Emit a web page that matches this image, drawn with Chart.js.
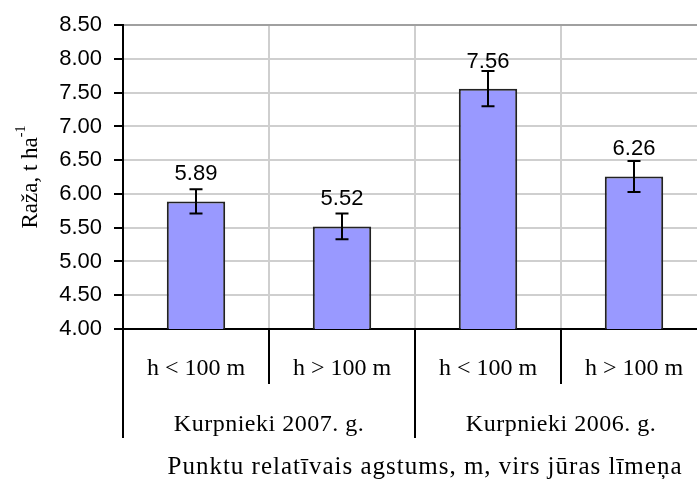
<!DOCTYPE html>
<html>
<head>
<meta charset="utf-8">
<script src="https://cdn.jsdelivr.net/npm/chart.js@4"></script>
<style>
  html, body { margin: 0; padding: 0; overflow: hidden; background: #fff; }
  #wrap { width: 710px; height: 479px; position: relative; }
</style>
</head>
<body>
<div id="wrap"><canvas id="myChart"></canvas></div>
<script>
// Raža pa punktiem (t/ha), ar kļūdu joslām
const categories = ['h < 100 m', 'h > 100 m', 'h < 100 m', 'h > 100 m'];
const groups = ['Kurpnieki 2007. g.', 'Kurpnieki 2006. g.'];
const yieldValues = [5.89, 5.52, 7.56, 6.26];
const errorValues = [0.18, 0.19, 0.26, 0.23];
const yMin = 4.0;
const yMax = 8.5;
const yStep = 0.5;

const serif = "'Liberation Serif', 'Times New Roman', serif";
const sans = "'Liberation Sans', Arial, sans-serif";

// kļūdu joslas un vērtību uzraksti virs stabiņiem
const barExtras = {
    id: 'barExtras',
    afterDatasetsDraw(chart) {
        const ctx = chart.ctx;
        const y = chart.scales.y;
        const meta = chart.getDatasetMeta(0);
        ctx.save();
        meta.data.forEach((bar, i) => {
            const v = yieldValues[i];
            const e = errorValues[i];
            const yTop = y.getPixelForValue(v + e);
            const yBot = y.getPixelForValue(v - e);
            ctx.strokeStyle = '#000';
            ctx.lineWidth = 2;
            ctx.beginPath();
            ctx.moveTo(bar.x, yTop);
            ctx.lineTo(bar.x, yBot);
            ctx.moveTo(bar.x - 6.5, yTop);
            ctx.lineTo(bar.x + 6.5, yTop);
            ctx.moveTo(bar.x - 6.5, yBot);
            ctx.lineTo(bar.x + 6.5, yBot);
            ctx.stroke();

            ctx.fillStyle = '#000';
            ctx.font = '22px ' + sans;
            ctx.textAlign = 'center';
            ctx.textBaseline = 'middle';
            ctx.fillText(v.toFixed(2), bar.x, bar.y - 27);
        });
        ctx.restore();
    }
};

// grupu atdalītāji zem ass, grupu nosaukumi un asu virsraksti
const axisExtras = {
    id: 'axisExtras',
    afterDraw(chart) {
        const ctx = chart.ctx;
        const x = chart.scales.x;
        const area = chart.chartArea;
        const half = (x.getPixelForValue(1) - x.getPixelForValue(0)) / 2;
        ctx.save();
        ctx.strokeStyle = '#000';
        ctx.lineWidth = 2;
        for (let i = 0; i <= categories.length; i++) {
            const px = x.getPixelForValue(0) - half + i * half * 2;
            const end = (i % 2 === 0) ? 438 : 384;
            ctx.beginPath();
            ctx.moveTo(px, area.bottom);
            ctx.lineTo(px, end);
            ctx.stroke();
        }

        ctx.fillStyle = '#000';
        ctx.textAlign = 'center';
        ctx.textBaseline = 'middle';
        ctx.font = '24px ' + serif;
        ctx.letterSpacing = '0.5px';
        groups.forEach((g, gi) => {
            const cx = (x.getPixelForValue(gi * 2) + x.getPixelForValue(gi * 2 + 1)) / 2;
            ctx.fillText(g, cx, 425);
        });
        ctx.font = '25px ' + serif;
        ctx.letterSpacing = '1px';
        ctx.fillText('Punktu relatīvais agstums, m, virs jūras līmeņa', (area.left + area.right) / 2 + 10, 467);
        ctx.letterSpacing = '0px';

        // Y ass virsraksts ar augšrakstu
        ctx.translate(31, (area.top + area.bottom) / 2);
        ctx.rotate(-Math.PI / 2);
        ctx.font = '23px ' + serif;
        const main = 'Raža, t ha';
        const wMain = ctx.measureText(main).width;
        ctx.font = '14px ' + serif;
        const sup = '-1';
        const wSup = ctx.measureText(sup).width;
        const start = -(wMain + wSup) / 2;
        ctx.textAlign = 'left';
        ctx.font = '23px ' + serif;
        ctx.fillText(main, start, 0);
        ctx.font = '14px ' + serif;
        ctx.fillText(sup, start + wMain, -10);
        ctx.restore();
    }
};

const ctx = document.getElementById('myChart').getContext('2d');
const myChart = new Chart(ctx, {
    type: 'bar',
    data: {
        labels: categories,
        datasets: [{
            data: yieldValues,
            backgroundColor: '#9999ff',
            borderColor: '#222',
            borderWidth: 2,
            borderSkipped: false,
            barPercentage: 0.4,
            categoryPercentage: 1.0
        }]
    },
    options: {
        responsive: true,
        maintainAspectRatio: false,
        animation: false,
        layout: { padding: { top: 22, right: 3, left: 0, bottom: 0 } },
        plugins: {
            legend: { display: false },
            tooltip: { enabled: false }
        },
        scales: {
            x: {
                grid: {
                    color: '#cfcfcf',
                    lineWidth: 2,
                    drawTicks: false
                },
                border: { color: '#000', width: 2 },
                ticks: {
                    color: '#000',
                    font: { family: serif, size: 24 },
                    padding: 25,
                    maxRotation: 0,
                    autoSkip: false
                },
                afterFit(scale) { scale.height = 150; }
            },
            y: {
                min: yMin,
                max: yMax,
                grid: {
                    color: (c) => (c.tick && c.tick.value === yMax) ? '#a0a0a0' : '#cfcfcf',
                    lineWidth: 2,
                    tickColor: '#000',
                    tickLength: 9,
                    tickWidth: 2
                },
                border: { color: '#000', width: 2 },
                ticks: {
                    stepSize: yStep,
                    color: '#000',
                    font: { family: sans, size: 22 },
                    padding: 12,
                    callback: (v) => Number(v).toFixed(2)
                },
                afterFit(scale) { scale.width = 123; }
            }
        }
    },
    plugins: [barExtras, axisExtras]
});
</script>
</body>
</html>
